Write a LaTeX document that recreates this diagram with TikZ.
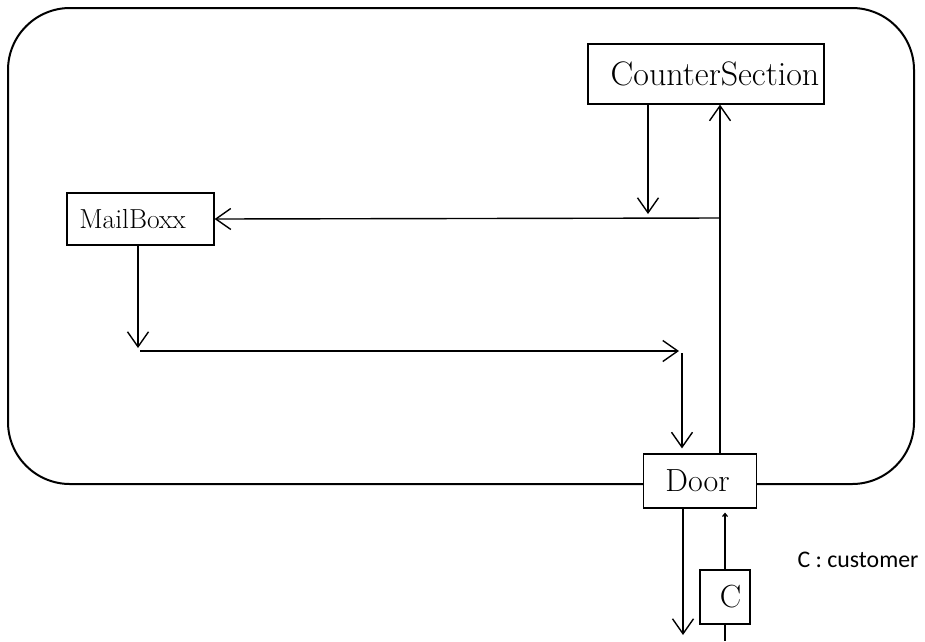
\documentclass[tikz,border=0pt]{standalone}
\usepackage{fontspec}
\newfontfamily\legendfont{Carlito}
\usetikzlibrary{arrows.meta}
\tikzset{
  box/.style={draw, line width=1.2pt, fill=white, inner sep=0pt},
  arr/.style={line width=1.4pt, -{Straight Barb[length=15pt,width=21pt,line width=1.4pt]}},
  tinyarr/.style={line width=2.4pt, -{Straight Barb[length=3pt,width=5pt,line width=1.2pt]}},
}
\begin{document}
\begin{tikzpicture}[x=1pt,y=-1pt]
  \useasboundingbox (0,0) rectangle (925,641);
  % outer office boundary
  \draw[line width=2pt, rounded corners=62pt] (8,8) rectangle (914,484);

  % rooms and the customer (labels sit a little off centre)
  \node[box, minimum width=236pt, minimum height=60pt,
        font=\fontsize{34}{40}\selectfont] (counter) at (706,74) {\hspace*{18pt}CounterSection};
  \node[box, minimum width=147pt, minimum height=52pt,
        font=\fontsize{27.5}{33}\selectfont] (mailbox) at (140.5,219) {MailBoxx\hspace*{16pt}};
  \node[box, minimum width=113pt, minimum height=54pt,
        font=\fontsize{32}{38}\selectfont] (door) at (700,481) {Door\hspace*{5pt}};
  \node[box, minimum width=50pt, minimum height=54pt,
        font=\fontsize{32}{38}\selectfont] (cust) at (725,597) {\hspace*{11pt}C};
  \node[anchor=west, font=\legendfont\fontsize{23.8}{28}\selectfont] (legend) at (794,560) {C : customer};

  % junction points of the flow
  \coordinate (j1) at (720,218);
  \coordinate (t1) at (648,214);
  \coordinate (k1) at (138,348);
  \coordinate (k2) at (140,351);
  \coordinate (k3) at (679,351);
  \coordinate (k4) at (682,353);
  \coordinate (out) at (683,635);
  \coordinate (bot) at (725,641);

  % flow inside the office
  \draw[arr] (door.north -| j1) -- (counter.south -| j1);
  \draw[arr] (j1) -- (mailbox.east);
  \draw[arr] (counter.south -| t1) -- (t1);
  \draw[arr] (mailbox.south -| k1) -- (k1);
  \draw[arr] (k2) -- (k3);
  \draw[arr, shorten >=5pt] (k4) -- (door.north -| k4);

  % leaving and entering through the door
  \draw[arr] (door.south -| out) -- (out);
  \draw[tinyarr, shorten >=4pt] (cust.north) -- (door.south -| cust.north);
  \draw[line width=2.4pt] (cust.south) -- (bot);
\end{tikzpicture}
\end{document}
